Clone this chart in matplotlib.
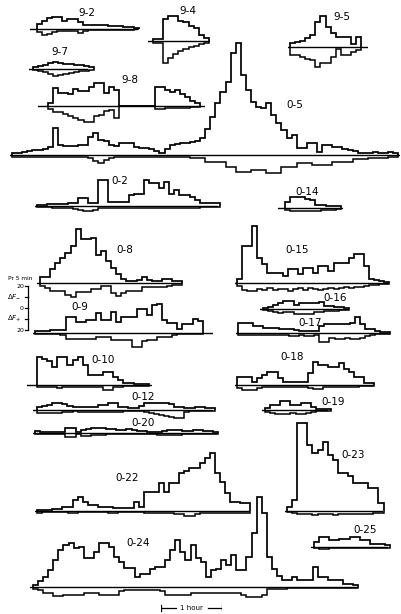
import numpy as np
import matplotlib
matplotlib.use("Agg")
from matplotlib import pyplot as plt

# counts per 5 min bin, above (pos) and below (neg) the baseline of each record
pos_9_2 = [5, 8, 11, 12, 12, 8, 10, 10, 7, 4, 4, 4, 4, 4, 3, 3, 3, 2, 2, 1]
neg_9_2 = [3, 6, 5, 3, 2, 2, 2, 2, 4, 2, 1, 1, 1, 1, 1, 1, 1, 1, 1, 0]
pos_9_4 = [2, 2, 22, 25, 25, 20, 19, 15, 13, 6, 3]
neg_9_4 = [2, 2, 22, 17, 13, 10, 8, 6, 5, 3, 2]
pos_9_5 = [4, 5, 6, 9, 12, 25, 31, 20, 14, 10, 10, 10, 3, 10]
neg_9_5 = [8, 8, 10, 12, 13, 20, 16, 16, 10, 2, 8, 8, 5, 3]
pos_9_7 = [2, 3, 4, 6, 7, 6, 5, 5, 4, 4, 3, 2]
neg_9_7 = [1, 2, 3, 5, 7, 6, 5, 4, 3, 2, 2, 1]
pos_9_8 = [3, 18, 13, 13, 12, 17, 15, 15, 19, 23, 23, 13, 19, 16,
           0, 0, 0, 0, 0, 0, 0, 19, 19, 16, 14, 16, 12, 9, 5, 3]
neg_9_8 = [3, 6, 6, 8, 10, 12, 14, 16, 16, 10, 9, 5, 4, 12,
           0, 0, 0, 0, 0, 0, 0, 3, 3, 2, 2, 2, 2, 2, 1, 1]
pos_0_5 = [2, 2, 3, 4, 5, 5, 6, 8, 27, 10, 9, 9, 9, 10, 10, 18, 22, 15, 14, 10,
           9, 12, 12, 12, 8, 7, 7, 6, 4, 2, 6, 10, 11, 12, 12, 13, 14, 17, 26, 38,
           52, 63, 73, 102, 112, 80, 65, 53, 48, 47, 52, 40, 32, 25, 17, 20, 7, 7, 12, 12,
           3, 10, 10, 8, 8, 6, 5, 4, 2, 2, 2, 3, 2, 2, 3, 2]
neg_0_5 = [2, 2, 2, 2, 2, 2, 2, 2, 2, 2, 2, 2, 2, 2, 2, 3, 6, 8, 5, 3,
           2, 2, 2, 2, 2, 2, 2, 2, 2, 2, 2, 2, 2, 2, 2, 3, 3, 3, 7, 7,
           7, 7, 12, 12, 17, 17, 17, 15, 15, 15, 18, 18, 18, 12, 12, 12, 8, 8, 8, 10,
           10, 10, 10, 7, 7, 7, 7, 4, 4, 4, 3, 3, 3, 3, 2, 2]
pos_0_2 = [1, 1, 2, 2, 2, 2, 3, 3, 8, 8, 3, 3, 26, 26, 4, 4, 4, 4, 11, 12,
           12, 26, 23, 23, 18, 24, 12, 16, 11, 11, 9, 6, 3, 3, 3, 3]
neg_0_2 = [1, 1, 1, 2, 2, 2, 2, 3, 4, 5, 5, 4, 2, 2, 2, 2, 2, 2, 2, 2,
           2, 2, 2, 2, 2, 2, 2, 2, 2, 2, 2, 2, 1, 1, 1, 1]
pos_0_14 = [6, 11, 11, 11, 9, 8, 3, 3, 2, 2, 2]
neg_0_14 = [2, 3, 3, 3, 3, 3, 3, 2, 2, 2, 1]
pos_0_8 = [6, 6, 14, 20, 25, 30, 37, 54, 44, 44, 45, 28, 32, 22, 15, 9, 4, 2, 2, 3,
           6, 3, 2, 2, 4, 4, 2, 2]
neg_0_8 = [3, 5, 8, 8, 8, 12, 14, 9, 9, 9, 6, 6, 3, 3, 10, 13, 10, 8, 8, 8,
           4, 4, 4, 4, 4, 3, 2, 2]
pos_0_9 = [2, 2, 2, 3, 3, 3, 16, 16, 11, 11, 13, 13, 20, 13, 13, 21, 11, 16, 16, 16,
           24, 24, 18, 28, 29, 13, 10, 10, 4, 9, 9, 14, 12]
neg_0_9 = [1, 1, 1, 1, 1, 2, 6, 6, 6, 6, 6, 6, 4, 4, 4, 7, 7, 7, 7, 14,
           14, 8, 7, 7, 4, 4, 4, 2, 1, 1, 1, 1, 1]
pos_0_10 = [28, 26, 24, 18, 28, 28, 20, 25, 28, 20, 10, 10, 10, 13, 13, 8, 5, 2, 2, 1, 1, 1]
neg_0_10 = [2, 2, 2, 2, 3, 2, 2, 2, 2, 2, 2, 2, 2, 5, 5, 2, 2, 1, 1, 1, 1, 1]
pos_0_12 = [3, 4, 5, 7, 7, 6, 4, 3, 3, 3, 3, 3, 5, 5, 7, 7, 3, 3, 2, 2,
            4, 7, 7, 7, 7, 7, 6, 3, 3, 2, 2, 3, 3, 2, 2]
neg_0_12 = [3, 3, 3, 3, 3, 2, 2, 1, 2, 2, 2, 2, 2, 2, 2, 2, 2, 1, 1, 1,
            1, 2, 3, 4, 5, 6, 7, 8, 8, 2, 1, 1, 1, 1, 1]
pos_0_20 = [2, 1, 1, 1, 1, 1, 5, 5, 1, 3, 4, 5, 5, 5, 4, 4, 3, 3, 4, 3,
            2, 2, 1, 1, 1, 2, 3, 3, 3, 2, 2, 3, 3, 2, 2, 1]
neg_0_20 = [1, 1, 1, 1, 1, 1, 4, 4, 1, 3, 3, 2, 2, 2, 1, 1, 1, 1, 1, 1,
            1, 1, 1, 1, 2, 2, 2, 2, 2, 1, 1, 1, 1, 1, 1, 1]
pos_0_15 = [4, 37, 37, 57, 25, 19, 10, 10, 10, 7, 14, 14, 9, 15, 15, 10, 17, 17, 12, 20,
            20, 20, 25, 29, 29, 17, 4, 3, 2, 1]
neg_0_15 = [3, 7, 8, 8, 6, 7, 5, 7, 6, 6, 8, 6, 5, 7, 5, 6, 7, 6, 5, 6,
            5, 4, 5, 4, 4, 3, 2, 2, 1, 1]
pos_0_16 = [1, 2, 4, 6, 8, 8, 4, 6, 6, 6, 6, 7, 3, 3, 2, 2, 1]
neg_0_16 = [1, 2, 3, 4, 3, 3, 5, 5, 5, 5, 3, 3, 2, 2, 2, 1, 1]
pos_0_17 = [10, 10, 10, 7, 7, 5, 5, 5, 4, 4, 4, 3, 2, 2, 2, 2, 7, 9, 9, 9,
            9, 9, 10, 16, 9, 4, 4, 2, 1, 1]
neg_0_17 = [2, 2, 2, 2, 2, 2, 2, 2, 2, 2, 3, 3, 2, 3, 3, 2, 9, 9, 5, 6,
            6, 5, 6, 6, 5, 3, 2, 1, 1, 1]
pos_0_18 = [8, 8, 8, 3, 7, 10, 13, 13, 7, 3, 3, 3, 3, 3, 12, 23, 20, 20, 18, 18,
            22, 16, 13, 8, 8, 2, 2]
neg_0_18 = [3, 5, 5, 5, 3, 2, 2, 2, 2, 2, 2, 2, 2, 2, 3, 4, 4, 2, 2, 2,
            2, 2, 2, 2, 1, 1, 1]
pos_0_19 = [2, 5, 5, 9, 9, 5, 5, 7, 7, 3, 1, 1, 1]
neg_0_19 = [2, 3, 4, 4, 4, 3, 4, 4, 3, 2, 1, 1, 1]
pos_0_22 = [1, 1, 1, 2, 2, 4, 4, 11, 14, 9, 6, 6, 4, 4, 4, 3, 3, 3, 3, 9,
            4, 19, 19, 19, 28, 19, 28, 28, 38, 40, 43, 43, 48, 53, 58, 38, 29, 18, 9, 9,
            8, 8]
neg_0_22 = [2, 1, 1, 1, 1, 1, 2, 2, 1, 1, 1, 1, 1, 1, 2, 2, 1, 1, 1, 1,
            1, 2, 2, 2, 2, 2, 2, 3, 3, 5, 5, 3, 2, 2, 2, 2, 2, 2, 2, 2,
            2, 2]
pos_0_23 = [4, 11, 88, 88, 66, 58, 61, 69, 56, 51, 38, 38, 35, 28, 28, 28, 23, 23, 8]
neg_0_23 = [1, 2, 3, 3, 3, 4, 3, 3, 3, 4, 3, 3, 3, 3, 3, 3, 3, 2, 2]
pos_0_25 = [5, 10, 10, 7, 7, 8, 8, 10, 10, 7, 7, 3, 3, 3, 2]
neg_0_25 = [1, 2, 2, 1, 1, 1, 1, 1, 1, 1, 1, 1, 1, 1, 1]
pos_0_24 = [2, 6, 10, 17, 27, 37, 42, 44, 39, 40, 29, 29, 35, 44, 44, 40, 30, 25, 19, 19,
            10, 13, 13, 18, 20, 20, 27, 37, 47, 35, 27, 42, 29, 25, 10, 17, 18, 27, 22, 32,
            17, 17, 30, 54, 90, 74, 30, 18, 11, 7, 7, 10, 7, 7, 7, 20, 10, 10, 7, 7,
            7, 3, 3, 2]
neg_0_24 = [2, 3, 6, 6, 9, 9, 8, 8, 8, 8, 6, 6, 6, 8, 8, 8, 8, 4, 3, 3,
            3, 3, 3, 3, 3, 4, 8, 8, 8, 8, 8, 6, 6, 6, 6, 6, 6, 6, 6, 6,
            6, 8, 10, 10, 10, 8, 2, 2, 2, 2, 1, 1, 1, 1, 1, 1, 1, 1, 1, 1,
            1, 1, 1, 1]

# name, pos, neg, trace start x, baseline y, baseline from/to x, label x/y  (pixels)
records = [
    ("9-2", pos_9_2, neg_9_2, 37, 29, 30, 138, 87, 13),
    ("9-4", pos_9_4, neg_9_4, 153, 41, 148, 210, 188, 11),
    ("9-5", pos_9_5, neg_9_5, 290, 47, 288, 368, 342, 17),
    ("9-7", pos_9_7, neg_9_7, 33, 69, 29, 88, 60, 52),
    ("9-8", pos_9_8, neg_9_8, 48, 106, 38, 205, 130, 80),
    ("0-5", pos_0_5, neg_0_5, 12, 155, 10, 400, 295, 105),
    ("0-2", pos_0_2, neg_0_2, 37, 206, 35, 218, 120, 181),
    ("0-14", pos_0_14, neg_0_14, 285, 208, 278, 343, 307, 192),
    ("0-8", pos_0_8, neg_0_8, 40, 283, 37, 182, 125, 250),
    ("0-9", pos_0_9, neg_0_9, 35, 333, 33, 213, 80, 307),
    ("0-10", pos_0_10, neg_0_10, 37, 385, 27, 152, 103, 360),
    ("0-12", pos_0_12, neg_0_12, 37, 410, 33, 213, 143, 397),
    ("0-20", pos_0_20, neg_0_20, 35, 433, 33, 217, 143, 423),
    ("0-15", pos_0_15, neg_0_15, 237, 283, 235, 388, 297, 250),
    ("0-16", pos_0_16, neg_0_16, 263, 309, 260, 349, 335, 298),
    ("0-17", pos_0_17, neg_0_17, 238, 333, 236, 390, 310, 323),
    ("0-18", pos_0_18, neg_0_18, 237, 385, 235, 374, 292, 357),
    ("0-19", pos_0_19, neg_0_19, 265, 410, 262, 328, 333, 402),
    ("0-22", pos_0_22, neg_0_22, 37, 511, 35, 250, 127, 478),
    ("0-23", pos_0_23, neg_0_23, 287, 511, 285, 383, 353, 455),
    ("0-25", pos_0_25, neg_0_25, 314, 547, 311, 388, 365, 530),
    ("0-24", pos_0_24, neg_0_24, 33, 587, 30, 357, 138, 543),
]

W, H = 402, 614
PX_PER_MIN = 61 / 60      # 1 hour = 61 px
PX_PER_COUNT = 1.0
BIN = 5                   # minutes per bin
UP, DOWN = 130, 40        # axes headroom (counts) above / below each baseline

fig = plt.figure(figsize=(W / 100, H / 100), dpi=100)
fig.patch.set_facecolor("white")


def px_axes(left, top, width, height):
    ax = fig.add_axes([left / W, 1 - (top + height) / H, width / W, height / H])
    ax.set_axis_off()
    return ax


def record(pos, neg, x0, base, line_from, line_to):
    ax = px_axes(line_from, base - UP * PX_PER_COUNT, line_to - line_from,
                 (UP + DOWN) * PX_PER_COUNT)
    ax.set_xlim((line_from - x0) / PX_PER_MIN, (line_to - x0) / PX_PER_MIN)
    ax.set_ylim(-DOWN, UP)
    edges = np.arange(len(pos) + 1) * BIN
    ax.stairs(pos, edges, baseline=0, color="k", lw=1.25, clip_on=False)
    ax.stairs(-np.asarray(neg), edges, baseline=0, color="k", lw=1.1, clip_on=False)
    ax.axhline(0, color="k", lw=1.0)
    return ax


for name, pos, neg, x0, base, lf, lt, lx, ly in records:
    record(pos, neg, x0, base, lf, lt)
    fig.text(lx / W, 1 - ly / H, name, ha="center", va="center",
             fontsize=7.5, family="DejaVu Sans")

# count scale beside 0-8 / 0-9
sax = px_axes(0, 308 - 30, 40, 60)
sax.set_xlim(0, 40)
sax.set_ylim(-30, 30)
sax.plot([28, 28], [-22, 22], color="k", lw=0.9)
for v in (-22, -11, 0, 11, 22):
    sax.plot([25.5, 28], [v, v], color="k", lw=0.9)
sax.text(20, 30, "Pr 5 min", fontsize=4.2, ha="center", va="center")
sax.text(24, 21, "20", fontsize=4.5, ha="right", va="center")
sax.text(14, 12, r"$\Delta F_{-}$", fontsize=5, ha="center", va="center")
sax.text(24, 0, "0", fontsize=4.5, ha="right", va="center")
sax.text(14, -11, r"$\Delta F_{+}$", fontsize=5, ha="center", va="center")
sax.text(24, -22, "20", fontsize=4.5, ha="right", va="center")

# time scale
tax = px_axes(161, 600, 61, 16)
tax.set_xlim(0, 60)
tax.set_ylim(-8, 8)
tax.plot([0, 15], [0, 0], color="k", lw=0.9)
tax.plot([46, 60], [0, 0], color="k", lw=0.9)
tax.plot([0, 0], [-3, 3], color="k", lw=0.9)
tax.plot([60, 60], [-3, 3], color="k", lw=0.9)
tax.text(30, 0, "1 hour", fontsize=5, ha="center", va="center")

fig.savefig("out.png", dpi=100, facecolor="white")
